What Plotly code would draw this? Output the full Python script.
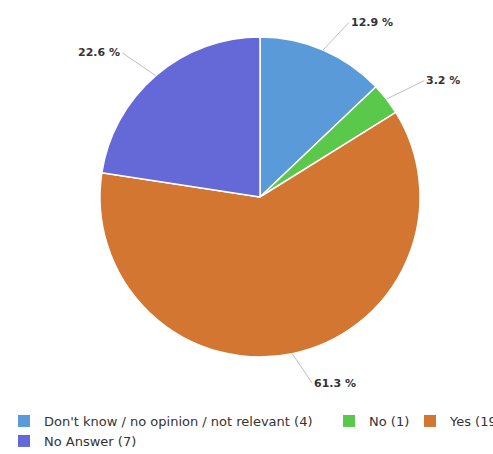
import math
import plotly.graph_objects as go

categories = ["Don't know / no opinion / not relevant", "No", "Yes", "No Answer"]
counts = [4, 1, 19, 7]
colors = ["#5a9ad9", "#5ac84a", "#d27631", "#6569d8"]

W, H = 493, 454
cx, cy, R = 260, 197, 160  # pie centre / radius in pixels

fig = go.Figure()
fig.add_trace(go.Pie(
    labels=[f"{c} ({n})" for c, n in zip(categories, counts)],
    values=counts,
    sort=False,
    direction="clockwise",
    rotation=0,
    textinfo="none",
    hoverinfo="label+percent",
    showlegend=False,
    marker=dict(colors=colors, line=dict(color="#ffffff", width=1.5)),
    domain=dict(x=[(cx - R) / W, (cx + R) / W], y=[1 - (cy + R) / H, 1 - (cy - R) / H]),
))

# legend entries (layout: three on the first row, one wrapped onto the second)
legend_names = ["legend", "legend2", "legend3", "legend4"]
legend_pos = [(4, 421), (329, 421), (410, 421), (4, 441)]
for name, c, n, col in zip(legend_names, categories, counts, colors):
    fig.add_trace(go.Scatter(
        x=[None], y=[None], mode="markers", name=f"{c} ({n})",
        marker=dict(symbol="square", size=12, color=col),
        legend=name, showlegend=True, hoverinfo="skip",
    ))

total = sum(counts)
cum = 0
annotations = []
for n in counts:
    mid = (cum + n / 2) / total * 2 * math.pi
    cum += n
    sx, sy = math.sin(mid), -math.cos(mid)
    px, py = cx + R * sx, cy + R * sy
    dist = 30
    annotations.append(dict(
        x=px / W, y=1 - py / H, xref="paper", yref="paper",
        text=f"<b>{n / total * 100:.1f} %</b>",
        showarrow=True, arrowhead=0, arrowwidth=1, arrowcolor="#c0c0c0",
        ax=dist * sx + (14 if sx >= 0 else -14), ay=dist * sy,
        xanchor="left" if sx >= 0 else "right",
        font=dict(size=11, color="#333333", family="DejaVu Sans"),
    ))

legend_style = dict(
    orientation="h", xanchor="left", yanchor="middle",
    font=dict(size=13, color="#333333", family="DejaVu Sans"),
    itemwidth=30, bgcolor="rgba(0,0,0,0)", borderwidth=0,
)
layout_legends = {}
for name, (lx, ly) in zip(legend_names, legend_pos):
    layout_legends[name] = dict(legend_style, x=lx / W, y=1 - ly / H)

fig.update_layout(
    width=W, height=H,
    margin=dict(l=0, r=0, t=0, b=0, autoexpand=False),
    paper_bgcolor="#ffffff",
    plot_bgcolor="#ffffff",
    xaxis=dict(visible=False),
    yaxis=dict(visible=False),
    annotations=annotations,
    showlegend=True,
    **layout_legends,
)

fig.write_html("out.html")
